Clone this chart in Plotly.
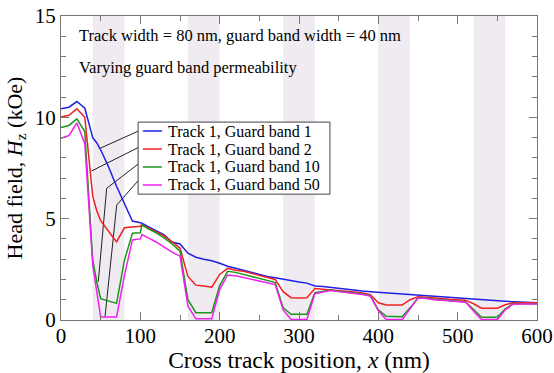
import plotly.graph_objects as go

# Cross-track positions (nm)
x_nm = [0, 10, 20, 30, 40, 45, 50, 60, 70, 80, 90, 100, 102] + list(range(110, 601, 10))

# Head field Hz (kOe) for each guard band permeability
hz_gb1 = [10.42, 10.5, 10.78, 10.45, 9.0, 8.75, 8.4, 7.55, 6.6, 5.75, 4.88, 4.8, 4.78,
          4.6, 4.4, 4.2, 3.85, 3.75, 3.3, 3.1, 3.0, 2.92, 2.8, 2.65, 2.55, 2.45, 2.33,
          2.22, 2.15, 2.08, 2.0, 1.93, 1.87, 1.82, 1.68, 1.65, 1.6, 1.55, 1.5, 1.47,
          1.43, 1.4, 1.37, 1.34, 1.32, 1.3, 1.27, 1.24, 1.2, 1.16, 1.13, 1.1, 1.07,
          1.05, 1.02, 1.0, 0.97, 0.95, 0.92, 0.9, 0.88, 0.86, 0.85]
hz_gb2 = [10.02, 10.1, 10.42, 10.0, 6.1, 5.4, 4.9, 4.4, 3.85, 4.55, 4.6, 4.62, 4.7,
          4.55, 4.35, 4.15, 3.85, 3.55, 2.15, 1.72, 1.68, 1.62, 2.25, 2.55, 2.45, 2.4,
          2.3, 2.2, 2.1, 2.0, 1.4, 1.1, 1.08, 1.1, 1.55, 1.52, 1.5, 1.45, 1.42, 1.38,
          1.33, 1.25, 0.85, 0.74, 0.74, 0.74, 1.0, 1.15, 1.12, 1.08, 1.05, 1.02, 1.0,
          0.98, 0.8, 0.58, 0.58, 0.58, 0.75, 0.85, 0.85, 0.85, 0.85]
hz_gb10 = [9.5, 9.6, 9.92, 9.3, 2.96, 1.9, 1.05, 0.95, 0.82, 2.95, 4.28, 4.3, 4.7,
           4.5, 4.3, 4.05, 3.75, 3.4, 1.0, 0.36, 0.36, 0.36, 1.7, 2.4, 2.35, 2.25,
           2.15, 2.05, 1.98, 1.85, 0.6, 0.28, 0.28, 0.28, 1.35, 1.4, 1.48, 1.42, 1.38,
           1.32, 1.28, 1.2, 0.5, 0.18, 0.16, 0.16, 0.6, 1.1, 1.08, 1.02, 1.0, 0.95,
           0.93, 0.9, 0.5, 0.13, 0.13, 0.13, 0.55, 0.8, 0.8, 0.8, 0.8]
hz_gb50 = [8.96, 9.1, 9.72, 8.7, 2.7, 1.5, 0.15, 0.15, 0.15, 2.2, 3.95, 4.0, 4.22,
           4.05, 3.85, 3.6, 3.35, 3.15, 0.68, 0.06, 0.06, 0.06, 1.5, 2.22, 2.18, 2.1,
           2.0, 1.92, 1.85, 1.75, 0.5, 0.03, 0.03, 0.03, 1.3, 1.38, 1.46, 1.4, 1.36,
           1.3, 1.26, 1.18, 0.45, 0.02, 0.02, 0.02, 0.55, 1.08, 1.06, 1.0, 0.98, 0.94,
           0.92, 0.88, 0.45, 0.02, 0.02, 0.02, 0.5, 0.78, 0.79, 0.79, 0.79]

series_names = ["Track 1, Guard band 1", "Track 1, Guard band 2",
                "Track 1, Guard band 10", "Track 1, Guard band 50"]
series_colors = ["#1f1fe6", "#f02020", "#1a961a", "#f020f0"]

# Guard band regions (nm)
guard_start = [40, 160, 280, 400, 520]
guard_end = [80, 200, 320, 440, 560]

# Leader lines from the legend entries to their curves (x in nm, Hz in kOe)
leader_x = [[97.4, 49.2], [97.4, 38.4], [97.4, 57.6, 47.0], [97.4, 70.2, 55.5]]
leader_y = [[9.32, 8.47], [8.51, 7.35], [7.70, 6.5, 1.89], [6.88, 5.67, 0.16]]

FONT = "Liberation Serif"
AXIS_GREY = "#777777"

fig = go.Figure()

for xs, ys in zip(leader_x, leader_y):
    fig.add_trace(go.Scatter(x=xs, y=ys, mode="lines", showlegend=False,
                             hoverinfo="skip",
                             line=dict(color="#222222", width=1)))

for name, color, hz in zip(series_names, series_colors,
                           [hz_gb1, hz_gb2, hz_gb10, hz_gb50]):
    fig.add_trace(go.Scatter(x=x_nm, y=hz, mode="lines", name=name,
                             showlegend=False,
                             line=dict(color=color, width=1.5)))

for s, e in zip(guard_start, guard_end):
    fig.add_shape(type="rect", xref="x", yref="paper", x0=s, x1=e, y0=0, y1=1,
                  fillcolor="#efebf1", line=dict(width=0), layer="below")

# Boxed key with tight row spacing
key_left, key_right, key_top, key_bottom = 0.162, 0.565, 0.651, 0.414
key_rows = [0.6217, 0.5625, 0.5033, 0.4441]
fig.add_shape(type="rect", xref="paper", yref="paper",
              x0=key_left, x1=key_right, y0=key_bottom, y1=key_top,
              fillcolor="white", line=dict(color="#444444", width=1), layer="above")
for name, color, ry in zip(series_names, series_colors, key_rows):
    fig.add_shape(type="line", xref="paper", yref="paper",
                  x0=0.172, x1=0.212, y0=ry, y1=ry,
                  line=dict(color=color, width=1.5), layer="above")
    fig.add_annotation(text=name, xref="paper", yref="paper", x=0.221, y=ry,
                       xanchor="left", yanchor="middle", showarrow=False,
                       font=dict(family=FONT, size=16, color="black"))

fig.add_annotation(text="Track width = 80 nm, guard band width = 40 nm",
                   xref="paper", yref="paper", x=0.034, y=0.9375,
                   xanchor="left", yanchor="middle", showarrow=False,
                   font=dict(family=FONT, size=16.5, color="black"))
fig.add_annotation(text="Varying guard band permeability",
                   xref="paper", yref="paper", x=0.034, y=0.829,
                   xanchor="left", yanchor="middle", showarrow=False,
                   font=dict(family=FONT, size=16.5, color="black"))

axis_common = dict(showgrid=False, zeroline=False, showline=True,
                   linecolor=AXIS_GREY, linewidth=1.2, mirror="ticks",
                   ticks="inside", ticklen=8, tickcolor=AXIS_GREY,
                   automargin=False,
                   tickfont=dict(family=FONT, size=21, color="black"))

fig.update_layout(
    width=554, height=373,
    margin=dict(l=61, r=17, t=16, b=53),
    paper_bgcolor="white", plot_bgcolor="white",
    font=dict(family=FONT, color="black"),
    showlegend=False,
    xaxis=dict(range=[0, 600], dtick=100, ticklabelstandoff=-3,
               minor=dict(dtick=50, ticks="inside", ticklen=5, tickcolor=AXIS_GREY),
               title=dict(text="Cross track position, <i>x</i> (nm)",
                          font=dict(family=FONT, size=23.5), standoff=0),
               **axis_common),
    yaxis=dict(range=[0, 15], dtick=5,
               minor=dict(dtick=1, ticks="inside", ticklen=5, tickcolor=AXIS_GREY),
               title=dict(text="Head field, <i>H</i><sub>z</sub> (kOe)",
                          font=dict(family=FONT, size=22), standoff=6),
               **axis_common),
)

fig.write_html("out.html")
